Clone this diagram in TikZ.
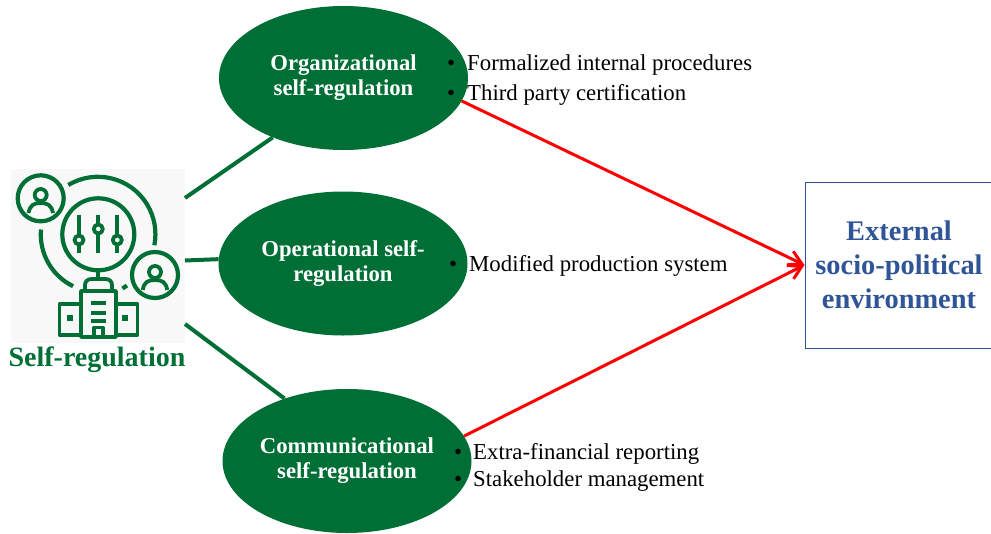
\documentclass[tikz,border=0pt]{standalone}
\usepackage{fontspec}
\setmainfont{Liberation Serif}
\usetikzlibrary{shapes.geometric,arrows.meta}
\definecolor{dgreen}{HTML}{006F36}
\definecolor{dblue}{HTML}{2F5597}
\definecolor{iconbg}{HTML}{F8F8F8}
\definecolor{hred}{HTML}{FF0000}
\tikzset{
  blob/.style={ellipse,fill=dgreen,draw=none,inner sep=0pt,minimum width=249pt,minimum height=144pt,text=white,align=center,font=\fontsize{22.7}{25}\selectfont\bfseries},
  item/.style={anchor=west,inner sep=0pt,font=\fontsize{22.8}{25}\selectfont,text=black},
  glink/.style={draw=dgreen,line width=4pt},
  rlink/.style={draw=hred,line width=3pt,-{Straight Barb[length=13pt,width=15pt,line width=3pt]}},
  ic/.style={draw=dgreen,line width=4.2pt},
  icthin/.style={draw=dgreen,line width=3.8pt,line join=round},
}
\begin{document}
\begin{tikzpicture}[x=1pt,y=-1pt]
\useasboundingbox (0,0) rectangle (991,533);
\node[fill=iconbg,minimum width=174pt,minimum height=174pt,inner sep=0pt] (icon) at (98,256) {};
\coordinate (i1) at (185,198);
\coordinate (i2) at (185,260.5);
\coordinate (i3) at (185,324);
% ellipses
\node[blob] (org) at (343.5,78) {\raisebox{-1pt}{Organizational}\\\raisebox{-1pt}{self-regulation}};
\node[blob] (ope) at (343,263.5) {\raisebox{-1pt}{Operational self-}\\\raisebox{-1pt}{regulation}};
\node[blob] (com) at (347,461) {\raisebox{-1pt}{Communicational}\\\raisebox{-1pt}{self-regulation}};
\node[draw=dblue,line width=1pt,fill=white,minimum width=188pt,minimum height=166pt,inner sep=0pt,align=center,text=dblue,font=\fontsize{28.4}{34}\selectfont\bfseries] (ext) at (899,265) {\raisebox{-1.5pt}{External}\\\raisebox{-2pt}{socio-political}\\\raisebox{-2pt}{environment}};
% connectors
\draw[glink] (i1) -- (org.220.7);
\draw[glink] (i2) -- (ope.178.5);
\draw[glink] (i3) -- (com.135);
\draw[rlink] (org.-11) -- (ext.west);
\draw[rlink] (com.12) -- (ext.west);
% list items
\node[item] (a1) at (447,65.5) {\makebox[20pt][l]{•}Formalized internal procedures};
\node[item] (a2) at (447,94.5) {\makebox[20pt][l]{•}Third party certification};
\node[item] (b1) at (449,266) {\makebox[20pt][l]{•}Modified production system};
\node[item] (c1) at (454,453.5) {\makebox[19pt][l]{•}Extra-financial reporting};
\node[item] (c2) at (454,481.5) {\makebox[19pt][l]{•}Stakeholder management};
\node[inner sep=0pt,text=dgreen,font=\fontsize{28}{30}\selectfont\bfseries] (lab) at (97,359.5) {Self-regulation};
% icon: circles
\draw[ic] (40.7,198.3) circle (23);
\draw[ic] (98.3,234.3) circle (36);
\draw[ic] (155,275) circle (23);
% big arcs
\draw[ic] (68.3,185) arc (-121:11:57.5);
\draw[ic] (41,229.5) arc (-175:-244:57.5);
\draw[ic] (122.5,288.5) -- (127,285.5);
% person 1
\draw[icthin] (40.7,195) circle (6);
\draw[icthin] (28.5,213) .. controls (30,205) and (34,203) .. (40.7,203) .. controls (47.5,203) and (51.5,205) .. (53,213);
% person 2
\draw[icthin] (155,272) circle (6);
\draw[icthin] (142.8,290) .. controls (144,282) and (148,280) .. (155,280) .. controls (162,280) and (166,282) .. (167.2,290);
% sliders
\draw[icthin] (79,215) -- (79,235) (79,245) -- (79,253);
\draw[icthin] (98.3,215) -- (98.3,224) (98.3,234) -- (98.3,253);
\draw[icthin] (117.3,215) -- (117.3,235) (117.3,245) -- (117.3,253);
\draw[icthin] (79,240) circle (4.5);
\draw[icthin] (98.3,229) circle (4.5);
\draw[icthin] (117.3,240) circle (4.5);
% stem, dome, building
\draw[icthin] (98.3,270) -- (98.3,279);
\draw[icthin] (85,290) -- (85,285) .. controls (85,281) and (88,279) .. (92,279) -- (105,279) .. controls (109,279) and (112,281) .. (112,285) -- (112,290);
\draw[icthin] (81,291) rectangle (116,337);
\draw[icthin] (81,304) -- (59.5,304) -- (59.5,335) -- (81,335);
\draw[icthin] (116,304) -- (137.5,304) -- (137.5,335) -- (116,335);
\draw[icthin] (91,303) -- (106,303) (91,313) -- (106,313);
\draw[icthin] (94,336) -- (94,327.5) -- (103,327.5) -- (103,336);
\draw[icthin] (91,321) -- (106,321);
\fill[dgreen] (67,315) rectangle (73,321);
\fill[dgreen] (122,315) rectangle (128,321);
\end{tikzpicture}
\end{document}
